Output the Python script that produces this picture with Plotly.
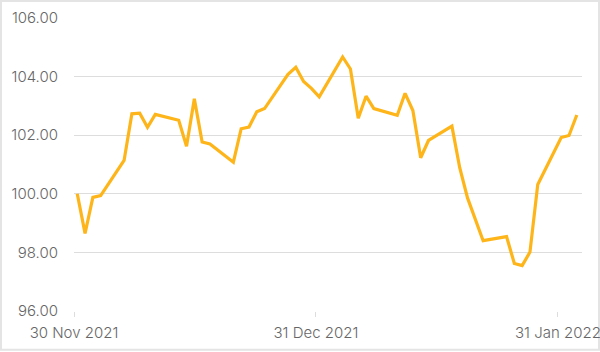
import pandas as pd
import plotly.graph_objects as go

dates = [
    "2021-11-30", "2021-12-01", "2021-12-02", "2021-12-03", "2021-12-06",
    "2021-12-07", "2021-12-08", "2021-12-09", "2021-12-10", "2021-12-13",
    "2021-12-14", "2021-12-15", "2021-12-16", "2021-12-17", "2021-12-20",
    "2021-12-21", "2021-12-22", "2021-12-23", "2021-12-24", "2021-12-27",
    "2021-12-28", "2021-12-29", "2021-12-30", "2021-12-31", "2022-01-03",
    "2022-01-04", "2022-01-05", "2022-01-06", "2022-01-07", "2022-01-10",
    "2022-01-11", "2022-01-12", "2022-01-13", "2022-01-14", "2022-01-17",
    "2022-01-18", "2022-01-19", "2022-01-21", "2022-01-24", "2022-01-25",
    "2022-01-26", "2022-01-27", "2022-01-28", "2022-01-31", "2022-02-01",
    "2022-02-02",
]
values = [
    100.00, 98.65, 99.88, 99.94, 101.14,
    102.73, 102.75, 102.27, 102.71, 102.51,
    101.62, 103.24, 101.77, 101.70, 101.08,
    102.22, 102.28, 102.80, 102.91, 104.08,
    104.32, 103.83, 103.60, 103.31, 104.67,
    104.26, 102.58, 103.33, 102.91, 102.68,
    103.43, 102.84, 101.23, 101.82, 102.31,
    100.89, 99.86, 98.40, 98.54, 97.62,
    97.55, 98.01, 100.32, 101.92, 101.99,
    102.69,
]
tick_dates = ["2021-11-30", "2021-12-31", "2022-01-31"]
tick_labels = ["30 Nov 2021", "31 Dec 2021", "31 Jan 2022"]
y_ticks = [96, 98, 100, 102, 104, 106]

x = pd.to_datetime(dates) + pd.Timedelta(hours=10)

fig = go.Figure()
fig.add_trace(go.Scatter(
    x=x, y=values, mode="lines",
    line=dict(color="#FDB51A", width=3.2),
    hoverinfo="skip",
))

font = dict(family="Inter, sans-serif", size=15, color="#666666", weight=300)

fig.update_layout(
    width=600, height=352,
    margin=dict(l=74, r=18, t=18, b=41, autoexpand=False),
    paper_bgcolor="white", plot_bgcolor="white",
    showlegend=False,
    font=font,
    xaxis=dict(
        range=["2021-11-30", "2022-02-03 02:00"],
        tickvals=tick_dates, ticktext=tick_labels,
        showgrid=False, zeroline=False,
        showline=False, automargin=False,
        ticks="outside", ticklen=5, tickcolor="#dddddd", tickwidth=1,
        ticklabelstandoff=3, ticklabeloverflow="allow",
        tickfont=font,
    ),
    yaxis=dict(
        range=[96, 106],
        tickvals=y_ticks, tickformat=".2f",
        showgrid=True, gridcolor="#dddddd", gridwidth=1,
        zeroline=False, showline=False, automargin=False,
        ticks="", ticklabelstandoff=15,
        tickfont=font,
    ),
    shapes=[
        dict(type="rect", xref="paper", yref="paper",
             x0=(1 - 74) / 508, x1=(599 - 74) / 508,
             y0=(311.3 - 350) / 293.3, y1=(311.3 - 1) / 293.3,
             line=dict(color="#e4e4e4", width=2), layer="below"),
    ],
)

fig.write_html("out.html")
